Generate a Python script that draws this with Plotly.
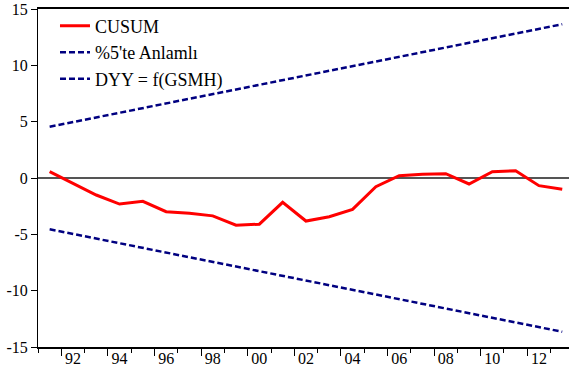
import plotly.graph_objects as go

years = list(range(1991, 2014))
cusum = [0.56, -0.47, -1.51, -2.31, -2.07, -2.99, -3.13, -3.36, -4.19, -4.10,
         -2.16, -3.82, -3.44, -2.78, -0.77, 0.20, 0.33, 0.38, -0.53, 0.56,
         0.65, -0.68, -1.00]
bound_years = [1991, 2013]
upper = [4.55, 13.65]
lower = [-4.55, -13.65]

label_years = list(range(1992, 2013, 2))
label_text = [str(y)[2:] for y in label_years]
long_ticks = [y - 0.5 for y in label_years]
short_ticks = [y - 1.5 for y in label_years] + [2012.5]
y_ticks = [-15, -10, -5, 0, 5, 10, 15]

xr = [1990.5, 2013.29]
font = "serif"

fig = go.Figure()
fig.add_trace(go.Scatter(x=years, y=cusum, mode="lines", name="CUSUM",
                         line=dict(color="#ff0000", width=3)))
fig.add_trace(go.Scatter(x=bound_years, y=upper, mode="lines", name="%5'te Anlamlı",
                         line=dict(color="#000080", width=2.5, dash="6px,3px")))
fig.add_trace(go.Scatter(x=bound_years, y=lower, mode="lines", name="DYY = f(GSMH)",
                         line=dict(color="#000080", width=2.5, dash="6px,3px")))
for ax in ["x2", "x3"]:
    fig.add_trace(go.Scatter(x=[years[0]], y=[cusum[0]], xaxis=ax, mode="lines",
                             showlegend=False, hoverinfo="skip",
                             line=dict(color="rgba(0,0,0,0)")))

fig.update_layout(
    width=569, height=383,
    margin=dict(l=38, r=0, t=9, b=36),
    paper_bgcolor="white", plot_bgcolor="white",
    font=dict(family=font, color="black"),
    showlegend=True,
    legend=dict(x=0.032, y=1.004, xanchor="left", yanchor="top",
                bgcolor="rgba(0,0,0,0)", borderwidth=0,
                font=dict(family=font, size=18, color="black"),
                tracegroupgap=0),
    xaxis=dict(range=xr, showgrid=False, zeroline=False,
               showline=True, linecolor="black", linewidth=1.5, mirror=True,
               tickmode="array", tickvals=long_ticks, ticks="outside",
               ticklen=7, tickwidth=1, tickcolor="black", showticklabels=False),
    xaxis2=dict(range=xr, overlaying="x", anchor="y", side="bottom",
                showgrid=False, zeroline=False, showline=False,
                tickmode="array", tickvals=short_ticks, ticks="outside",
                ticklen=4.5, tickwidth=1, tickcolor="black", showticklabels=False),
    xaxis3=dict(range=xr, overlaying="x", anchor="y", side="bottom",
                showgrid=False, zeroline=False, showline=False,
                tickmode="array", tickvals=label_years, ticktext=label_text,
                ticks="", tickfont=dict(family=font, size=16, color="black")),
    yaxis=dict(range=[-15, 15], showgrid=False,
               zeroline=True, zerolinecolor="#555555", zerolinewidth=1.5,
               showline=True, linecolor="black", linewidth=1,
               tickmode="array", tickvals=y_ticks,
               ticktext=[str(v) for v in y_ticks],
               ticks="outside", ticklen=6, tickwidth=1, tickcolor="black",
               tickfont=dict(family=font, size=16, color="black")),
)

fig.write_html("out.html")
